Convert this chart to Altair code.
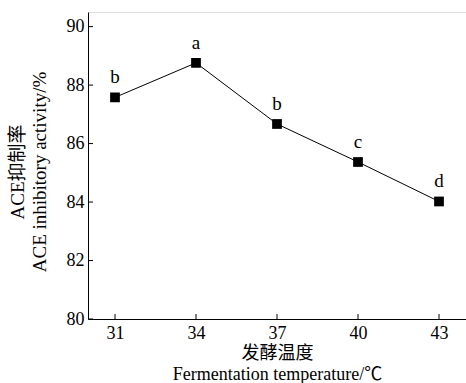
import altair as alt
import pandas as pd

temps = [31, 34, 37, 40, 43]
activity = [87.58, 88.76, 86.67, 85.37, 84.02]
letters = ["b", "a", "b", "c", "d"]
x_ticks = [31, 34, 37, 40, 43]
y_ticks = [80, 82, 84, 86, 88, 90]

FONT = "Liberation Serif, Times New Roman, Noto Sans CJK SC"
W, H = 378, 307

df = pd.DataFrame({"t": temps, "v": activity, "lab": letters})
dfx = pd.DataFrame({"t": x_ticks})
dfy = pd.DataFrame({"v": y_ticks})

xs = alt.Scale(domain=[30, 44], nice=False, zero=False)
ys = alt.Scale(domain=[80, 90.5], nice=False, zero=False)

xaxis = alt.Axis(values=x_ticks, tickSize=0, labelPadding=5, grid=False,
                 title=["发酵温度", "Fermentation temperature/℃"],
                 titleFontWeight="normal", titleFontSize=18, titlePadding=2,
                 labelFontSize=18, domainColor="black", labelColor="black",
                 titleColor="black", titleFont=FONT, labelFont=FONT,
                 titleLineHeight=21)
yaxis = alt.Axis(values=y_ticks, tickSize=0, labelPadding=4, grid=False,
                 title=["ACE抑制率", "ACE inhibitory activity/%"],
                 titleFontWeight="normal", titleFontSize=19, titlePadding=17,
                 titleY=H / 2 + 6,
                 labelFontSize=18, domainColor="black", labelColor="black",
                 titleColor="black", titleFont=FONT, labelFont=FONT,
                 titleLineHeight=22)

line = alt.Chart(df).mark_line(color="black", strokeWidth=1).encode(
    x=alt.X("t:Q", scale=xs, axis=xaxis),
    y=alt.Y("v:Q", scale=ys, axis=yaxis),
)
pts = alt.Chart(df).mark_point(shape="square", filled=True, size=95,
                               color="black", opacity=1).encode(
    x=alt.X("t:Q", scale=xs), y=alt.Y("v:Q", scale=ys))
txt = alt.Chart(df).mark_text(dy=-10, baseline="bottom", fontSize=19,
                              font=FONT, color="black").encode(
    x=alt.X("t:Q", scale=xs), y=alt.Y("v:Q", scale=ys), text="lab:N")
xt = alt.Chart(dfx).mark_rule(color="black", strokeWidth=1).encode(
    x=alt.X("t:Q", scale=xs), y=alt.value(H), y2=alt.value(H - 5))
yt = alt.Chart(dfy).mark_rule(color="black", strokeWidth=1).encode(
    y=alt.Y("v:Q", scale=ys), x=alt.value(0), x2=alt.value(5))

chart = alt.layer(line, pts, txt, xt, yt).properties(
    width=W, height=H,
    autosize=alt.AutoSizeParams(type="none"),
    padding={"left": 88, "top": 12, "right": 0, "bottom": 64},
).configure_view(stroke=None).configure(background="white")

chart.save("out.html", embed_options={"renderer": "svg", "actions": False})
